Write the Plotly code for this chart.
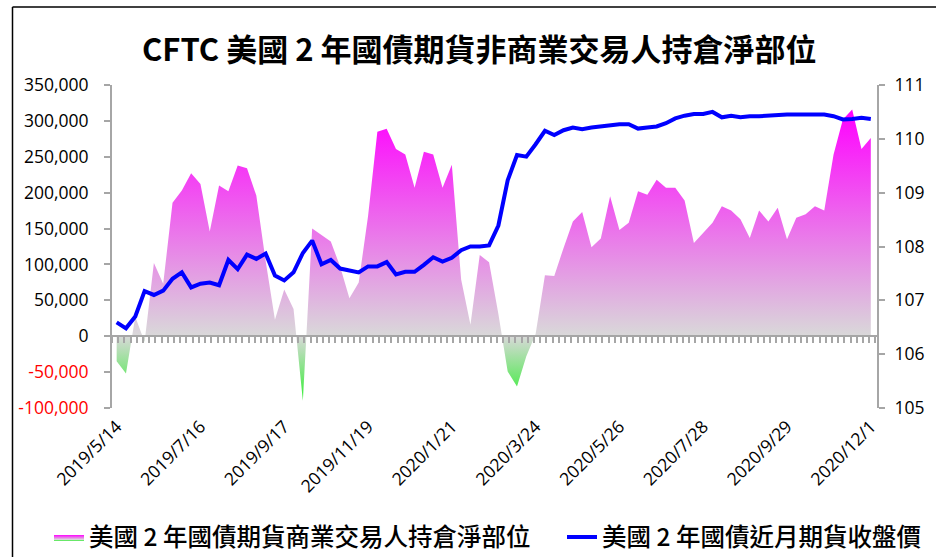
import plotly.graph_objects as go
import pandas as pd

# ---------------- data ----------------
dates = pd.date_range("2019-05-14", periods=82, freq="7D")

net_position = [
    -34800, -52000, 27000, -8000, 102000, 73000, 186000, 203000, 227000, 212000,
    146000, 210000, 202000, 238000, 234000, 196000, 105000, 23000, 65000, 38000,
    -90000, 150000, 141000, 132000, 97000, 53000, 75000, 167000, 285000, 289000,
    261000, 253000, 207000, 257000, 253000, 207000, 239000, 79000, 16000, 113000,
    103000, 31000, -49000, -70000, -28000, 3000, 85000, 84000, 123000, 160000,
    173000, 124000, 136000, 195000, 148000, 158000, 202000, 197000, 218000, 207000,
    207000, 189000, 130000, 144000, 158000, 181000, 175000, 163000, 137000, 175000,
    160000, 179000, 135000, 165000, 170000, 181000, 175000, 253000, 302000, 316000,
    261000, 276000,
]

close_price = [
    106.59, 106.48, 106.70, 107.17, 107.10, 107.18, 107.40, 107.52, 107.24, 107.31,
    107.33, 107.28, 107.75, 107.58, 107.85, 107.77, 107.87, 107.46, 107.37, 107.52,
    107.88, 108.11, 107.67, 107.75, 107.59, 107.56, 107.52, 107.63, 107.63, 107.71,
    107.48, 107.53, 107.53, 107.66, 107.80, 107.72, 107.79, 107.93, 108.00, 108.00,
    108.02, 108.39, 109.23, 109.70, 109.67, 109.90, 110.15, 110.07, 110.16, 110.21,
    110.18, 110.21, 110.23, 110.26, 110.27, 110.27, 110.19, 110.21, 110.23, 110.29,
    110.38, 110.43, 110.46, 110.46, 110.50, 110.40, 110.43, 110.40, 110.42, 110.42,
    110.43, 110.45, 110.45, 110.45, 110.45, 110.45, 110.45, 110.42, 110.36, 110.37,
    110.39, 110.37,
]

date_labels = ["2019/5/14", "2019/7/16", "2019/9/17", "2019/11/19", "2020/1/21",
               "2020/3/24", "2020/5/26", "2020/7/28", "2020/9/29", "2020/12/1"]
left_ticks = [-100000, -50000, 0, 50000, 100000, 150000, 200000, 250000, 300000, 350000]
right_ticks = [105, 106, 107, 108, 109, 110, 111]

title_text = "CFTC 美國 2 年國債期貨非商業交易人持倉淨部位"
area_name = "美國 2 年國債期貨商業交易人持倉淨部位"
line_name = "美國 2 年國債近月期貨收盤價"

# ---------------- layout geometry ----------------
W, H = 936, 557
L, R, T, B = 112, 59, 85, 149
PW, PH = W - L - R, H - T - B

def px_x(px):
    return (px - L) / PW

def px_y(py):
    return (H - B - py) / PH

x0 = dates[0] - pd.Timedelta(days=3.5)
x1 = dates[-1] + pd.Timedelta(days=4.66)
tick_ms = 7 * 24 * 3600 * 1000 * 2 / 3

tickdates = pd.to_datetime(date_labels, format="%Y/%m/%d")
left_text = [
    f'<span style="color:#FF0000">{v:,}</span>' if v < 0 else f"{v:,}"
    for v in left_ticks
]

ymin, ymax = min(net_position), max(net_position)
zpos = -ymin / (ymax - ymin)

AX = "#A6A6A6"
TICKFONT = dict(family="Open Sans, DejaVu Sans, sans-serif", size=17.5, color="#000000")
CJK = "Noto Sans CJK TC, Noto Sans CJK SC, sans-serif"
LEGFONT = dict(family=CJK, size=24.5, color="#000000", weight=500)

fig = go.Figure()

fig.add_trace(go.Scatter(
    x=dates, y=net_position, name=area_name,
    mode="lines", line=dict(width=0, color="rgba(0,0,0,0)"),
    fill="tozeroy",
    fillgradient=dict(
        type="vertical", start=ymin, stop=ymax,
        colorscale=[[0, "#33EE33"], [zpos, "#D9D9D9"], [1, "#FF00FF"]],
    ),
    xaxis="x", yaxis="y", hoverinfo="skip", legend="legend",
))

fig.add_trace(go.Scatter(
    x=dates, y=close_price, name=line_name,
    mode="lines", line=dict(width=4, color="#0000FF"),
    xaxis="x", yaxis="y2", legend="legend2",
))

# dummy trace so the zero-crossing category axis is drawn
fig.add_trace(go.Scatter(
    x=[dates[0]], y=[None], xaxis="x2", yaxis="y",
    showlegend=False, hoverinfo="skip", mode="lines",
))

fig.update_layout(
    width=W, height=H,
    margin=dict(l=L, r=R, t=T, b=B, autoexpand=False),
    paper_bgcolor="white", plot_bgcolor="white",
    title=dict(
        text=title_text, x=0.512, xanchor="center", y=1 - 50 / H, yanchor="middle",
        yref="container", xref="container",
        font=dict(family=CJK, size=31, color="#000000", weight=700),
    ),
    xaxis=dict(
        type="date", range=[x0, x1], showgrid=False, zeroline=False,
        showline=False, ticks="", tickmode="array",
        tickvals=tickdates, ticktext=date_labels, tickangle=-45,
        tickfont=TICKFONT, ticklabelstandoff=4,
    ),
    xaxis2=dict(
        type="date", range=[x0, x1], overlaying="x", anchor="free",
        position=(0 - left_ticks[0]) / (left_ticks[-1] - left_ticks[0]),
        showgrid=False, zeroline=False, showline=True, linecolor=AX, linewidth=2,
        ticks="outside", ticklen=6, tickwidth=1.5, tickcolor=AX,
        tickmode="linear", tick0=x0, dtick=tick_ms, showticklabels=False,
    ),
    yaxis=dict(
        range=[left_ticks[0], left_ticks[-1]], tickmode="array",
        tickvals=left_ticks, ticktext=left_text, showgrid=False, zeroline=False,
        showline=True, linecolor=AX, linewidth=2, ticks="outside", ticklen=6,
        tickwidth=1.5, tickcolor=AX, tickfont=TICKFONT, ticklabelstandoff=12,
    ),
    yaxis2=dict(
        range=[right_ticks[0], right_ticks[-1]], overlaying="y", side="right",
        tickmode="array", tickvals=right_ticks, showgrid=False, zeroline=False,
        showline=True, linecolor=AX, linewidth=2, ticks="outside", ticklen=6,
        tickwidth=1.5, tickcolor=AX, tickfont=TICKFONT, ticklabelstandoff=6,
    ),
    showlegend=True,
    legend=dict(
        orientation="h", x=px_x(49), xanchor="left", y=px_y(537), yanchor="middle",
        font=LEGFONT, bgcolor="rgba(0,0,0,0)", itemwidth=30,
    ),
    legend2=dict(
        orientation="h", x=px_x(562), xanchor="left", y=px_y(537), yanchor="middle",
        font=LEGFONT, bgcolor="rgba(0,0,0,0)", itemwidth=30,
    ),
    shapes=[
        dict(type="line", xref="paper", yref="paper",
             x0=px_x(12.5), x1=px_x(12.5), y0=px_y(7), y1=px_y(H + 5),
             line=dict(color="#000000", width=1.5)),
        dict(type="line", xref="paper", yref="paper",
             x0=px_x(12.5), x1=px_x(W + 5), y0=px_y(7), y1=px_y(7),
             line=dict(color="#000000", width=1.5)),
    ],
)

fig.write_html("out.html", config={"displayModeBar": False},
               post_script="document.body.style.margin='0px';")
